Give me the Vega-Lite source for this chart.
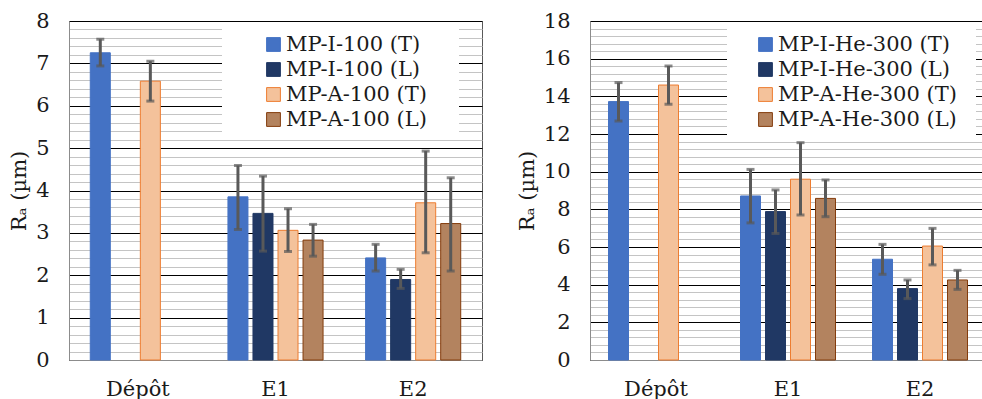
{
  "$schema": "https://vega.github.io/schema/vega-lite/v6.json",
  "padding": {"left": 8, "top": 9, "right": 0, "bottom": 0},
  "background": "white",
  "config": {
    "font": "DejaVu Serif",
    "view": {"stroke": "#595959", "strokeWidth": 1},
    "axis": {
      "labelFont": "DejaVu Serif", "labelFontSize": 21, "labelColor": "#1a1a1a",
      "titleFont": "DejaVu Serif", "titleFontSize": 21, "titleFontWeight": "normal", "titleColor": "#1a1a1a",
      "ticks": false, "domainColor": "#8c8c8c", "labelOverlap": false
    },
    "legend": {
      "labelFont": "DejaVu Serif", "labelFontSize": 21, "labelColor": "#1a1a1a",
      "titleFont": "DejaVu Serif", "titleFontSize": 12,
      "symbolType": "square", "symbolSize": 190, "symbolStrokeWidth": 1,
      "fillColor": "white", "padding": 8, "rowPadding": 3, "labelOffset": 2, "labelLimit": 400
    }
  },
  "datasets": {
    "left": [
      {"group": "Dépôt", "series": "MP-I-100 (T)", "Ra": 7.25, "lo": 6.94, "hi": 7.57},
      {"group": "Dépôt", "series": "MP-A-100 (T)", "Ra": 6.58, "lo": 6.11, "hi": 7.05},
      {"group": "E1", "series": "MP-I-100 (T)", "Ra": 3.85, "lo": 3.08, "hi": 4.59},
      {"group": "E1", "series": "MP-I-100 (L)", "Ra": 3.46, "lo": 2.57, "hi": 4.34},
      {"group": "E1", "series": "MP-A-100 (T)", "Ra": 3.06, "lo": 2.56, "hi": 3.57},
      {"group": "E1", "series": "MP-A-100 (L)", "Ra": 2.83, "lo": 2.45, "hi": 3.20},
      {"group": "E2", "series": "MP-I-100 (T)", "Ra": 2.41, "lo": 2.10, "hi": 2.73},
      {"group": "E2", "series": "MP-I-100 (L)", "Ra": 1.90, "lo": 1.69, "hi": 2.14},
      {"group": "E2", "series": "MP-A-100 (T)", "Ra": 3.71, "lo": 2.53, "hi": 4.93},
      {"group": "E2", "series": "MP-A-100 (L)", "Ra": 3.22, "lo": 2.10, "hi": 4.30}
    ],
    "right": [
      {"group": "Dépôt", "series": "MP-I-He-300 (T)", "Ra": 13.72, "lo": 12.69, "hi": 14.73},
      {"group": "Dépôt", "series": "MP-A-He-300 (T)", "Ra": 14.60, "lo": 13.58, "hi": 15.61},
      {"group": "E1", "series": "MP-I-He-300 (T)", "Ra": 8.71, "lo": 7.28, "hi": 10.12},
      {"group": "E1", "series": "MP-I-He-300 (L)", "Ra": 7.88, "lo": 6.72, "hi": 9.03},
      {"group": "E1", "series": "MP-A-He-300 (T)", "Ra": 9.60, "lo": 7.70, "hi": 11.54},
      {"group": "E1", "series": "MP-A-He-300 (L)", "Ra": 8.58, "lo": 7.61, "hi": 9.56},
      {"group": "E2", "series": "MP-I-He-300 (T)", "Ra": 5.35, "lo": 4.55, "hi": 6.14},
      {"group": "E2", "series": "MP-I-He-300 (L)", "Ra": 3.79, "lo": 3.26, "hi": 4.25},
      {"group": "E2", "series": "MP-A-He-300 (T)", "Ra": 6.05, "lo": 5.05, "hi": 6.99},
      {"group": "E2", "series": "MP-A-He-300 (L)", "Ra": 4.25, "lo": 3.75, "hi": 4.76}
    ]
  },
  "spacing": 32,
  "resolve": {
    "scale": {"x": "independent", "y": "independent", "xOffset": "independent", "color": "independent", "stroke": "independent"},
    "legend": {"color": "independent", "stroke": "independent"}
  },
  "hconcat": [
    {
      "width": 413, "height": 339,
      "data": {"name": "left"},
      "encoding": {
        "x": {"field": "group", "type": "nominal", "sort": ["Dépôt", "E1", "E2"], "scale": {"paddingInner": 0, "paddingOuter": 0},
              "axis": {"title": null, "labelAngle": 0, "labelPadding": 18}},
        "xOffset": {"field": "series", "type": "nominal",
                    "scale": {"domain": ["MP-I-100 (T)", "MP-I-100 (L)", "MP-A-100 (T)", "MP-A-100 (L)"], "paddingInner": 0.2, "paddingOuter": 0.85}}
      },
      "layer": [
        {
          "mark": {"type": "bar", "strokeWidth": 1},
          "encoding": {
            "y": {"field": "Ra", "type": "quantitative", "title": "Rₐ (µm)", "scale": {"domain": [0, 8], "nice": false},
                  "axis": {"titlePadding": 6, "labelPadding": 20,
                           "values": [0,0.2,0.4,0.6,0.8,1,1.2,1.4,1.6,1.8,2,2.2,2.4,2.6,2.8,3,3.2,3.4,3.6,3.8,4,4.2,4.4,4.6,4.8,5,5.2,5.4,5.6,5.8,6,6.2,6.4,6.6,6.8,7,7.2,7.4,7.6,7.8,8],
                           "labelExpr": "datum.value % 1 === 0 ? '' + datum.value : ''",
                           "gridColor": {"condition": {"test": "datum.value % 1 === 0", "value": "#000000"}, "value": "#c4c4c4"}}},
            "color": {"field": "series", "type": "nominal",
                      "scale": {"domain": ["MP-I-100 (T)", "MP-I-100 (L)", "MP-A-100 (T)", "MP-A-100 (L)"], "range": ["#4472c4", "#203864", "#f4c29b", "#b3835f"]},
                      "legend": {"orient": "none", "legendX": 153, "legendY": 5, "title": "\u00a0", "titleOrient": "right", "titlePadding": 24, "symbolOffset": 33}},
            "stroke": {"field": "series", "type": "nominal",
                       "scale": {"domain": ["MP-I-100 (T)", "MP-I-100 (L)", "MP-A-100 (T)", "MP-A-100 (L)"], "range": ["#4472c4", "#203864", "#ed7d31", "#843c0c"]},
                       "legend": {"orient": "none", "legendX": 153, "legendY": 5, "title": "\u00a0", "titleOrient": "right", "titlePadding": 24, "symbolOffset": 33}}
          }
        },
        {
          "mark": {"type": "rule", "color": "#595959", "strokeWidth": 3},
          "encoding": {"y": {"field": "lo", "type": "quantitative", "title": "Rₐ (µm)",
                  "axis": {"titlePadding": 6, "labelPadding": 20,
                           "values": [0,0.2,0.4,0.6,0.8,1,1.2,1.4,1.6,1.8,2,2.2,2.4,2.6,2.8,3,3.2,3.4,3.6,3.8,4,4.2,4.4,4.6,4.8,5,5.2,5.4,5.6,5.8,6,6.2,6.4,6.6,6.8,7,7.2,7.4,7.6,7.8,8],
                           "labelExpr": "datum.value % 1 === 0 ? '' + datum.value : ''",
                           "gridColor": {"condition": {"test": "datum.value % 1 === 0", "value": "#000000"}, "value": "#c4c4c4"}}}, "y2": {"field": "hi"}}
        },
        {
          "mark": {"type": "tick", "color": "#595959", "thickness": 3, "size": 8},
          "encoding": {"y": {"field": "lo", "type": "quantitative", "title": "Rₐ (µm)",
                  "axis": {"titlePadding": 6, "labelPadding": 20,
                           "values": [0,0.2,0.4,0.6,0.8,1,1.2,1.4,1.6,1.8,2,2.2,2.4,2.6,2.8,3,3.2,3.4,3.6,3.8,4,4.2,4.4,4.6,4.8,5,5.2,5.4,5.6,5.8,6,6.2,6.4,6.6,6.8,7,7.2,7.4,7.6,7.8,8],
                           "labelExpr": "datum.value % 1 === 0 ? '' + datum.value : ''",
                           "gridColor": {"condition": {"test": "datum.value % 1 === 0", "value": "#000000"}, "value": "#c4c4c4"}}}}
        },
        {
          "mark": {"type": "tick", "color": "#595959", "thickness": 3, "size": 8},
          "encoding": {"y": {"field": "hi", "type": "quantitative", "title": "Rₐ (µm)",
                  "axis": {"titlePadding": 6, "labelPadding": 20,
                           "values": [0,0.2,0.4,0.6,0.8,1,1.2,1.4,1.6,1.8,2,2.2,2.4,2.6,2.8,3,3.2,3.4,3.6,3.8,4,4.2,4.4,4.6,4.8,5,5.2,5.4,5.6,5.8,6,6.2,6.4,6.6,6.8,7,7.2,7.4,7.6,7.8,8],
                           "labelExpr": "datum.value % 1 === 0 ? '' + datum.value : ''",
                           "gridColor": {"condition": {"test": "datum.value % 1 === 0", "value": "#000000"}, "value": "#c4c4c4"}}}}
        }
      ]
    },
    {
      "width": 396, "height": 339,
      "data": {"name": "right"},
      "encoding": {
        "x": {"field": "group", "type": "nominal", "sort": ["Dépôt", "E1", "E2"], "scale": {"paddingInner": 0, "paddingOuter": 0},
              "axis": {"title": null, "labelAngle": 0, "labelPadding": 18}},
        "xOffset": {"field": "series", "type": "nominal",
                    "scale": {"domain": ["MP-I-He-300 (T)", "MP-I-He-300 (L)", "MP-A-He-300 (T)", "MP-A-He-300 (L)"], "paddingInner": 0.2, "paddingOuter": 0.74}}
      },
      "layer": [
        {
          "mark": {"type": "bar", "strokeWidth": 1},
          "encoding": {
            "y": {"field": "Ra", "type": "quantitative", "title": "Rₐ (µm)", "scale": {"domain": [0, 18], "nice": false},
                  "axis": {"titlePadding": 6, "labelPadding": 20,
                           "values": [0,0.4,0.8,1.2,1.6,2,2.4,2.8,3.2,3.6,4,4.4,4.8,5.2,5.6,6,6.4,6.8,7.2,7.6,8,8.4,8.8,9.2,9.6,10,10.4,10.8,11.2,11.6,12,12.4,12.8,13.2,13.6,14,14.4,14.8,15.2,15.6,16,16.4,16.8,17.2,17.6,18],
                           "labelExpr": "datum.value % 2 === 0 ? '' + datum.value : ''",
                           "gridColor": {"condition": {"test": "datum.value % 2 === 0", "value": "#000000"}, "value": "#c4c4c4"}}},
            "color": {"field": "series", "type": "nominal",
                      "scale": {"domain": ["MP-I-He-300 (T)", "MP-I-He-300 (L)", "MP-A-He-300 (T)", "MP-A-He-300 (L)"], "range": ["#4472c4", "#203864", "#f4c29b", "#b3835f"]},
                      "legend": {"orient": "none", "legendX": 137, "legendY": 5, "title": "\u00a0", "titleOrient": "right", "titlePadding": 11, "symbolOffset": 20}},
            "stroke": {"field": "series", "type": "nominal",
                       "scale": {"domain": ["MP-I-He-300 (T)", "MP-I-He-300 (L)", "MP-A-He-300 (T)", "MP-A-He-300 (L)"], "range": ["#4472c4", "#203864", "#ed7d31", "#843c0c"]},
                       "legend": {"orient": "none", "legendX": 137, "legendY": 5, "title": "\u00a0", "titleOrient": "right", "titlePadding": 11, "symbolOffset": 20}}
          }
        },
        {
          "mark": {"type": "rule", "color": "#595959", "strokeWidth": 3},
          "encoding": {"y": {"field": "lo", "type": "quantitative", "title": "Rₐ (µm)",
                  "axis": {"titlePadding": 6, "labelPadding": 20,
                           "values": [0,0.4,0.8,1.2,1.6,2,2.4,2.8,3.2,3.6,4,4.4,4.8,5.2,5.6,6,6.4,6.8,7.2,7.6,8,8.4,8.8,9.2,9.6,10,10.4,10.8,11.2,11.6,12,12.4,12.8,13.2,13.6,14,14.4,14.8,15.2,15.6,16,16.4,16.8,17.2,17.6,18],
                           "labelExpr": "datum.value % 2 === 0 ? '' + datum.value : ''",
                           "gridColor": {"condition": {"test": "datum.value % 2 === 0", "value": "#000000"}, "value": "#c4c4c4"}}}, "y2": {"field": "hi"}}
        },
        {
          "mark": {"type": "tick", "color": "#595959", "thickness": 3, "size": 8},
          "encoding": {"y": {"field": "lo", "type": "quantitative", "title": "Rₐ (µm)",
                  "axis": {"titlePadding": 6, "labelPadding": 20,
                           "values": [0,0.4,0.8,1.2,1.6,2,2.4,2.8,3.2,3.6,4,4.4,4.8,5.2,5.6,6,6.4,6.8,7.2,7.6,8,8.4,8.8,9.2,9.6,10,10.4,10.8,11.2,11.6,12,12.4,12.8,13.2,13.6,14,14.4,14.8,15.2,15.6,16,16.4,16.8,17.2,17.6,18],
                           "labelExpr": "datum.value % 2 === 0 ? '' + datum.value : ''",
                           "gridColor": {"condition": {"test": "datum.value % 2 === 0", "value": "#000000"}, "value": "#c4c4c4"}}}}
        },
        {
          "mark": {"type": "tick", "color": "#595959", "thickness": 3, "size": 8},
          "encoding": {"y": {"field": "hi", "type": "quantitative", "title": "Rₐ (µm)",
                  "axis": {"titlePadding": 6, "labelPadding": 20,
                           "values": [0,0.4,0.8,1.2,1.6,2,2.4,2.8,3.2,3.6,4,4.4,4.8,5.2,5.6,6,6.4,6.8,7.2,7.6,8,8.4,8.8,9.2,9.6,10,10.4,10.8,11.2,11.6,12,12.4,12.8,13.2,13.6,14,14.4,14.8,15.2,15.6,16,16.4,16.8,17.2,17.6,18],
                           "labelExpr": "datum.value % 2 === 0 ? '' + datum.value : ''",
                           "gridColor": {"condition": {"test": "datum.value % 2 === 0", "value": "#000000"}, "value": "#c4c4c4"}}}}
        }
      ]
    }
  ]
}
